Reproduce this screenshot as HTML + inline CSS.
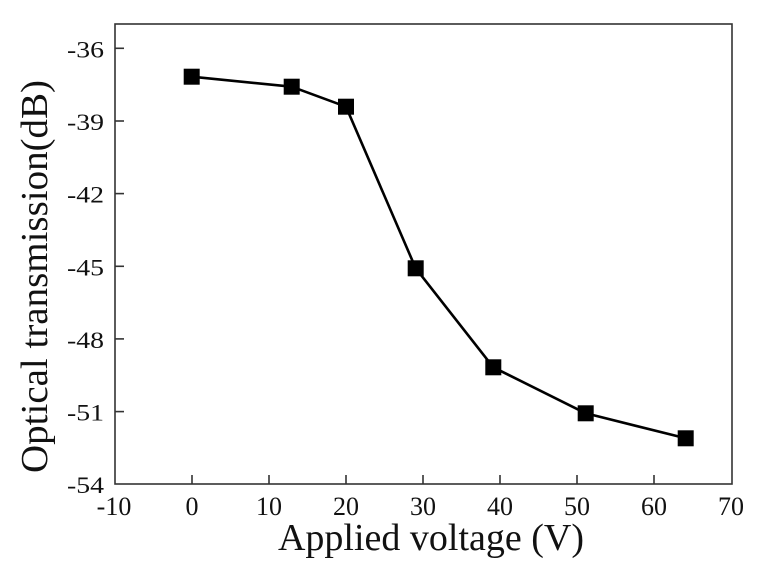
<!DOCTYPE html>
<html>
<head>
<meta charset="utf-8">
<style>
  html, body { margin:0; padding:0; background:#fff; }
  svg { display:block; }
  text { font-family: "Liberation Serif", "Times New Roman", serif; fill:#111; }
</style>
</head>
<body>
<svg width="778" height="581" viewBox="0 0 778 581" xmlns="http://www.w3.org/2000/svg">
  <rect x="0" y="0" width="778" height="581" fill="#fff"/>
  <!-- axes box -->
  <rect x="115" y="24" width="617" height="460" fill="none" stroke="#333" stroke-width="1.6"/>
  <!-- y ticks -->
  <g stroke="#333" stroke-width="1.6">
    <line x1="115" y1="48.3" x2="124" y2="48.3"/>
    <line x1="115" y1="121" x2="124" y2="121"/>
    <line x1="115" y1="193.6" x2="124" y2="193.6"/>
    <line x1="115" y1="266.3" x2="124" y2="266.3"/>
    <line x1="115" y1="338.9" x2="124" y2="338.9"/>
    <line x1="115" y1="411.6" x2="124" y2="411.6"/>
    <!-- x ticks -->
    <line x1="192" y1="484" x2="192" y2="475"/>
    <line x1="269" y1="484" x2="269" y2="475"/>
    <line x1="346" y1="484" x2="346" y2="475"/>
    <line x1="423" y1="484" x2="423" y2="475"/>
    <line x1="500" y1="484" x2="500" y2="475"/>
    <line x1="577" y1="484" x2="577" y2="475"/>
    <line x1="654" y1="484" x2="654" y2="475"/>
  </g>
  <!-- y tick labels -->
  <g font-size="23">
    <text x="67" y="57.5" textLength="37" lengthAdjust="spacingAndGlyphs">-36</text>
    <text x="67" y="130" textLength="37" lengthAdjust="spacingAndGlyphs">-39</text>
    <text x="67" y="202.6" textLength="37" lengthAdjust="spacingAndGlyphs">-42</text>
    <text x="67" y="275.3" textLength="37" lengthAdjust="spacingAndGlyphs">-45</text>
    <text x="67" y="347.9" textLength="37" lengthAdjust="spacingAndGlyphs">-48</text>
    <text x="67" y="420.6" textLength="37" lengthAdjust="spacingAndGlyphs">-51</text>
    <text x="67" y="493" textLength="37" lengthAdjust="spacingAndGlyphs">-54</text>
  </g>
  <!-- x tick labels -->
  <g font-size="26" text-anchor="middle">
    <text x="114" y="515">-10</text>
    <text x="192" y="515">0</text>
    <text x="269" y="515">10</text>
    <text x="346" y="515">20</text>
    <text x="423" y="515">30</text>
    <text x="500" y="515">40</text>
    <text x="577" y="515">50</text>
    <text x="654" y="515">60</text>
    <text x="731" y="515">70</text>
  </g>
  <!-- axis titles -->
  <text x="431" y="550" font-size="38" text-anchor="middle">Applied voltage (V)</text>
  <text transform="translate(47,276.5) rotate(-90)" font-size="38" text-anchor="middle" textLength="393" lengthAdjust="spacingAndGlyphs">Optical transmission(dB)</text>
  <!-- data line -->
  <polyline fill="none" stroke="#000" stroke-width="2.6" stroke-linejoin="round"
    points="191.7,76.7 291.7,86.7 346,106.7 415.7,268.3 493.3,367.3 585.7,413.3 685.7,438.3"/>
  <!-- markers -->
  <g fill="#000">
    <rect x="183.7" y="68.7" width="16" height="16"/>
    <rect x="283.7" y="78.7" width="16" height="16"/>
    <rect x="338" y="98.7" width="16" height="16"/>
    <rect x="407.7" y="260.3" width="16" height="16"/>
    <rect x="485.3" y="359.3" width="16" height="16"/>
    <rect x="577.7" y="405.3" width="16" height="16"/>
    <rect x="677.7" y="430.3" width="16" height="16"/>
  </g>
</svg>
</body>
</html>
